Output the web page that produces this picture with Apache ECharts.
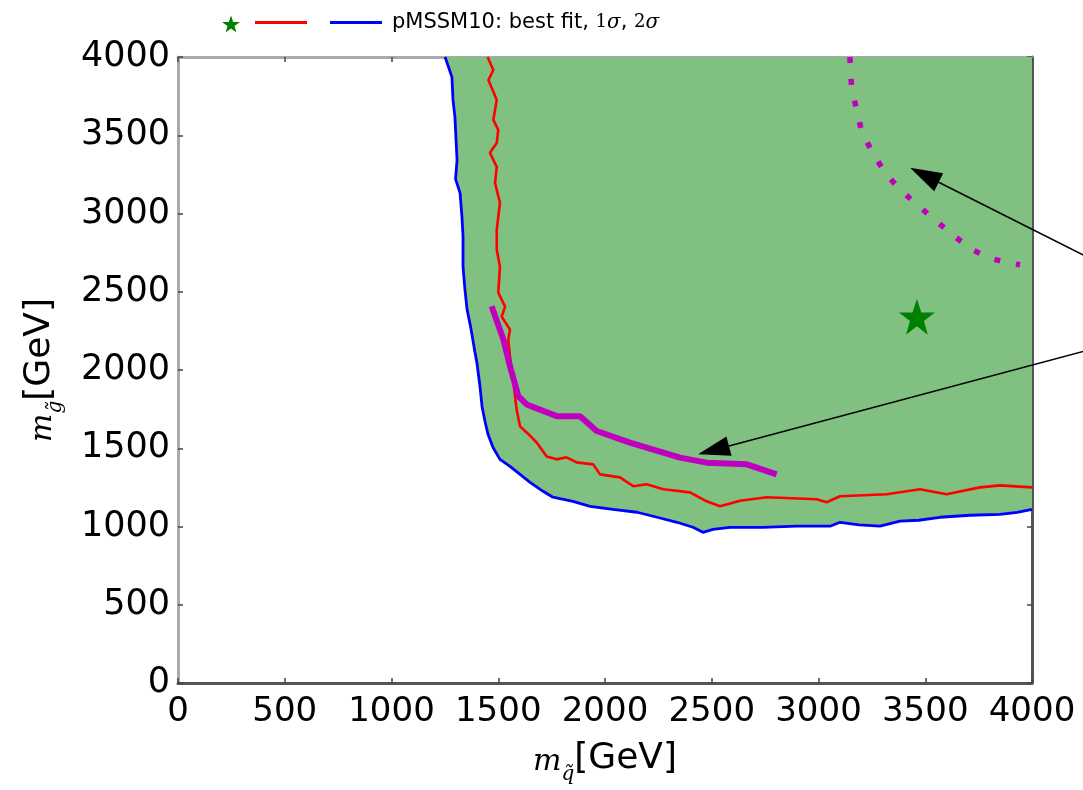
<!DOCTYPE html>
<html><head><meta charset="utf-8">
<script src="https://cdn.jsdelivr.net/npm/echarts@6/dist/echarts.min.js"></script>
<style>html,body{margin:0;padding:0;background:#fff}#c{width:1083px;height:790px}</style>
</head><body><div id="c"></div>
<script>
const xMin = 0, xMax = 4000, yMin = 0, yMax = 4000, tickStep = 500;

const blue2sigma = [[1251,4000],[1283,3872],[1288,3726],[1297,3617],[1307,3343],[1300,3220],[1321,3132],[1330,2979],[1335,2852],[1335,2660],[1344,2514],[1354,2386],[1370,2280],[1377,2226],[1390,2120],[1400,2048],[1415,1888],[1424,1767],[1438,1671],[1452,1589],[1475,1506],[1508,1429],[1555,1384],[1602,1333],[1649,1282],[1710,1225],[1756,1187],[1850,1161],[1930,1129],[2037,1110],[2150,1091],[2244,1059],[2337,1027],[2412,995],[2459,963],[2506,982],[2585,995],[2740,995],[2899,1002],[3054,1002],[3101,1027],[3190,1010],[3288,1002],[3382,1034],[3469,1040],[3569,1059],[3710,1072],[3850,1078],[3930,1090],[4000,1110]];

const red1sigma = [[1450,4000],[1477,3917],[1454,3853],[1493,3726],[1477,3598],[1500,3534],[1493,3451],[1461,3388],[1493,3298],[1485,3196],[1508,3069],[1493,2896],[1493,2769],[1508,2660],[1500,2494],[1532,2405],[1516,2341],[1555,2258],[1547,2194],[1555,2086],[1571,1920],[1586,1748],[1602,1640],[1633,1601],[1680,1537],[1727,1448],[1774,1429],[1820,1442],[1867,1410],[1945,1397],[1977,1333],[2070,1314],[2133,1257],[2195,1270],[2273,1238],[2398,1218],[2476,1161],[2539,1129],[2632,1165],[2757,1187],[2992,1174],[3038,1155],[3101,1193],[3319,1206],[3475,1238],[3600,1206],[3756,1250],[3850,1263],[4000,1250]];

const magentaSolid = [[1469,2407],[1524,2195],[1555,2024],[1594,1833],[1633,1780],[1774,1705],[1883,1705],[1961,1610],[2117,1536],[2351,1440],[2476,1408],[2664,1397],[2804,1333]];

const magentaDotted = [[3147,4000],[3155,3800],[3179,3662],[3202,3524],[3254,3386],[3311,3262],[3382,3152],[3463,3056],[3546,2956],[3628,2865],[3713,2773],[3816,2709],[3917,2678],[3944,2672]];

const bestFit = [[3461,2341]];

const arrowTails = [[4412,2616],[4412,2182]];
const arrowTips = [[3429,3292],[2436,1461]];

const STAR = 'path://M50,0 L61.8,35.4 L98.5,35.4 L68.8,57.3 L79.4,92.7 L50,70.8 L20.6,92.7 L31.2,57.3 L1.5,35.4 L38.2,35.4 Z';

const chart = echarts.init(document.getElementById('c'), null, {renderer:'canvas'});

const baseAxis = {
  type:'value', min:xMin, max:xMax, interval:tickStep,
  splitLine:{show:false},
  axisTick:{show:true, inside:true, length:5, lineStyle:{color:'#444', width:1.5}}
};
const plainNum = v => String(v);

const option = {
  animation:false,
  backgroundColor:'#fff',
  textStyle:{fontFamily:'DejaVu Sans', color:'#000'},
  grid:{left:178, right:51, top:57, bottom:106, containLabel:false},
  legend:[
    {data:['best fit'], left:222, top:15, padding:0, itemWidth:18, itemHeight:18, formatter:()=>'' , selectedMode:false},
    {data:[{name:'1σ', icon:'rect'},{name:'2σ', icon:'rect'}], left:255, top:12, padding:0, itemWidth:52, itemHeight:3, itemGap:23, selectedMode:false,
     formatter:(n)=> n==='2σ' ? 'pMSSM10: best fit, {n|1}{s|σ}, {n|2}{s|σ}' : '',
     textStyle:{fontSize:21, color:'#000', fontFamily:'DejaVu Sans', padding:[0,0,0,5],
       rich:{n:{fontSize:18, fontFamily:'DejaVu Serif'}, s:{fontSize:20, fontFamily:'DejaVu Serif', fontStyle:'italic'}}}}
  ],
  xAxis:[
    Object.assign({}, baseAxis, {
      position:'bottom',
      axisLine:{show:true, onZero:false, lineStyle:{color:'#555', width:3}},
      axisLabel:{fontSize:34, color:'#000', margin:12, fontFamily:'DejaVu Sans', formatter:plainNum},
      name:'{m|m}{s|q̃}[GeV]', nameLocation:'middle', nameGap:58,
      nameTextStyle:{fontSize:36, color:'#000', fontFamily:'DejaVu Sans',
        rich:{m:{fontSize:30, fontFamily:'DejaVu Serif', fontStyle:'italic', verticalAlign:'bottom'},
              s:{fontSize:20, fontFamily:'DejaVu Serif', fontStyle:'italic', verticalAlign:'bottom', padding:[0,0,-8,0]}}}
    }),
    Object.assign({}, baseAxis, {
      position:'top',
      axisLine:{show:true, onZero:false, lineStyle:{color:'#aaa', width:3}},
      axisLabel:{show:false}
    })
  ],
  yAxis:[
    Object.assign({}, baseAxis, {
      min:yMin, max:yMax,
      position:'left',
      axisLine:{show:true, onZero:false, lineStyle:{color:'#aaa', width:3}},
      axisLabel:{fontSize:35, color:'#000', margin:8, fontFamily:'DejaVu Sans', formatter:plainNum},
      name:'{m|m}{s|g̃}[GeV]', nameLocation:'middle', nameGap:120, nameRotate:90,
      nameTextStyle:{fontSize:36, color:'#000', fontFamily:'DejaVu Sans',
        rich:{m:{fontSize:30, fontFamily:'DejaVu Serif', fontStyle:'italic', verticalAlign:'bottom'},
              s:{fontSize:20, fontFamily:'DejaVu Serif', fontStyle:'italic', verticalAlign:'bottom', padding:[0,0,-8,0]}}}
    }),
    Object.assign({}, baseAxis, {
      min:yMin, max:yMax,
      position:'right',
      axisLine:{show:true, onZero:false, lineStyle:{color:'#555', width:3}},
      axisLabel:{show:false}
    })
  ],
  series:[
    {
      type:'custom', name:'fill', silent:true, z:1,
      xAxisIndex:0, yAxisIndex:0,
      data:[[xMax,yMax]],
      renderItem:(params, api)=>({
        type:'polygon',
        shape:{points: blue2sigma.concat([[api.value(0), api.value(1)]]).map(p=>api.coord(p))},
        style:{fill:'#80c080', stroke:null}
      })
    },
    {type:'line', name:'2σ', data:blue2sigma, symbol:'none', showSymbol:false, z:3,
     lineStyle:{color:'#0000ff', width:2.8}, itemStyle:{color:'#0000ff'}},
    {type:'line', name:'1σ', data:red1sigma, symbol:'none', showSymbol:false, z:3,
     lineStyle:{color:'#ff0000', width:2.6}, itemStyle:{color:'#ff0000'}},
    {type:'line', name:'observed', data:magentaSolid, symbol:'none', showSymbol:false, z:4,
     lineStyle:{color:'#bf00bf', width:6}},
    {type:'line', name:'expected', data:magentaDotted, symbol:'none', showSymbol:false, z:4,
     lineStyle:{color:'#bf00bf', width:5.5, type:[6,16], cap:'butt'}},
    {type:'scatter', name:'best fit', data:bestFit, symbol:STAR, symbolSize:36, z:5,
     itemStyle:{color:'#008000', opacity:1}},
    {
      type:'custom', name:'arrows', silent:true, z:10, clip:false,
      data: arrowTails.map((t,i)=>[t[0],t[1],arrowTips[i][0],arrowTips[i][1]]),
      encode:{x:[0,2], y:[1,3]},
      renderItem:(params, api)=>{
        const a = api.coord([api.value(0), api.value(1)]);
        const b = api.coord([api.value(2), api.value(3)]);
        const dx=b[0]-a[0], dy=b[1]-a[1], L=Math.hypot(dx,dy), ux=dx/L, uy=dy/L;
        const hl=32, hw=10;
        const base=[b[0]-ux*hl, b[1]-uy*hl];
        return {type:'group', children:[
          {type:'line', shape:{x1:a[0],y1:a[1],x2:base[0],y2:base[1]}, style:{stroke:'#000', lineWidth:1.5}},
          {type:'polygon', shape:{points:[b,[base[0]-uy*hw, base[1]+ux*hw],[base[0]+uy*hw, base[1]-ux*hw]]}, style:{fill:'#000'}}
        ]};
      }
    }
  ]
};
chart.setOption(option);
</script>
</body></html>
